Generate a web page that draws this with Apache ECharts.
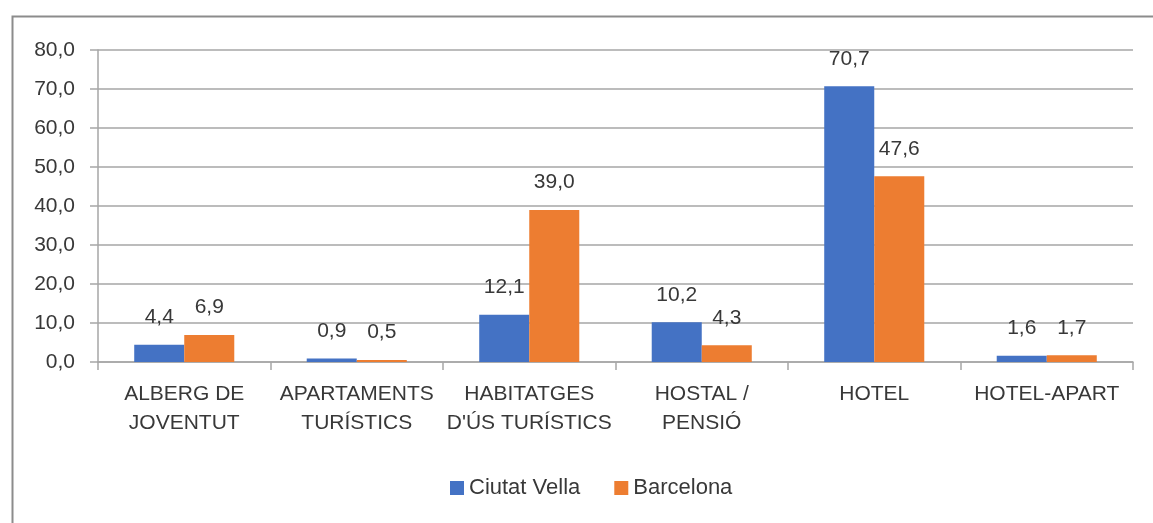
<!DOCTYPE html>
<html>
<head>
<meta charset="utf-8">
<script src="https://cdn.jsdelivr.net/npm/echarts@6/dist/echarts.min.js"></script>
<style>
html,body{margin:0;padding:0;background:#fff;}
#c{width:1153px;height:523px;}
</style>
</head>
<body>
<div id="c"></div>
<script>
const categories = ["ALBERG DE\nJOVENTUT", "APARTAMENTS\nTURÍSTICS", "HABITATGES\nD'ÚS TURÍSTICS", "HOSTAL /\nPENSIÓ", "HOTEL", "HOTEL-APART"];
const ciutatVella = [4.4, 0.9, 12.1, 10.2, 70.7, 1.6];
const barcelona = [6.9, 0.5, 39.0, 4.3, 47.6, 1.7];
const seriesNames = ["Ciutat Vella", "Barcelona"];

const FONT = "Liberation Sans";
const TXT = "#383838";
const fmt = v => Number(v).toFixed(1).replace('.', ',');

const chart = echarts.init(document.getElementById('c'), null, {renderer: 'canvas'});
chart.setOption({
  animation: false,
  textStyle: {fontFamily: FONT},
  graphic: [{
    type: 'rect', left: 10, top: 14, silent: true,
    shape: {width: 1160, height: 520},
    style: {fill: 'none', stroke: '#8c8c8c', lineWidth: 2}
  }],
  grid: {left: 98, right: 20, top: 50, bottom: 161, containLabel: false},
  legend: {
    left: 450, top: 477, padding: 0,
    itemWidth: 14, itemHeight: 14, itemGap: 34,
    icon: 'rect',
    textStyle: {fontFamily: FONT, fontSize: 22, color: TXT},
    data: seriesNames
  },
  xAxis: {
    type: 'category',
    data: categories,
    axisLine: {lineStyle: {color: '#a6a6a6', width: 1.5}},
    axisTick: {show: true, length: 8, lineStyle: {color: '#a6a6a6', width: 1.5}},
    axisLabel: {fontFamily: FONT, fontSize: 21, color: TXT, margin: 18, lineHeight: 29, interval: 0}
  },
  yAxis: {
    type: 'value', min: 0, max: 80, interval: 10,
    axisLine: {show: true, lineStyle: {color: '#a6a6a6', width: 1.5}},
    axisTick: {show: true, length: 8, lineStyle: {color: '#a6a6a6', width: 1.5}},
    splitLine: {lineStyle: {color: '#a6a6a6', width: 1.5}},
    axisLabel: {fontFamily: FONT, fontSize: 21, color: TXT, margin: 23, formatter: fmt}
  },
  series: [
    {
      name: seriesNames[0], type: 'bar', data: ciutatVella,
      barGap: '0%', barCategoryGap: '42%',
      itemStyle: {color: '#4472C4'},
      label: {show: true, position: 'top', distance: 17, fontFamily: FONT, fontSize: 21, color: TXT, formatter: p => fmt(p.value)}
    },
    {
      name: seriesNames[1], type: 'bar', data: barcelona,
      barGap: '0%', barCategoryGap: '42%',
      itemStyle: {color: '#ED7D31'},
      label: {show: true, position: 'top', distance: 17, fontFamily: FONT, fontSize: 21, color: TXT, formatter: p => fmt(p.value)}
    }
  ]
});
</script>
</body>
</html>
